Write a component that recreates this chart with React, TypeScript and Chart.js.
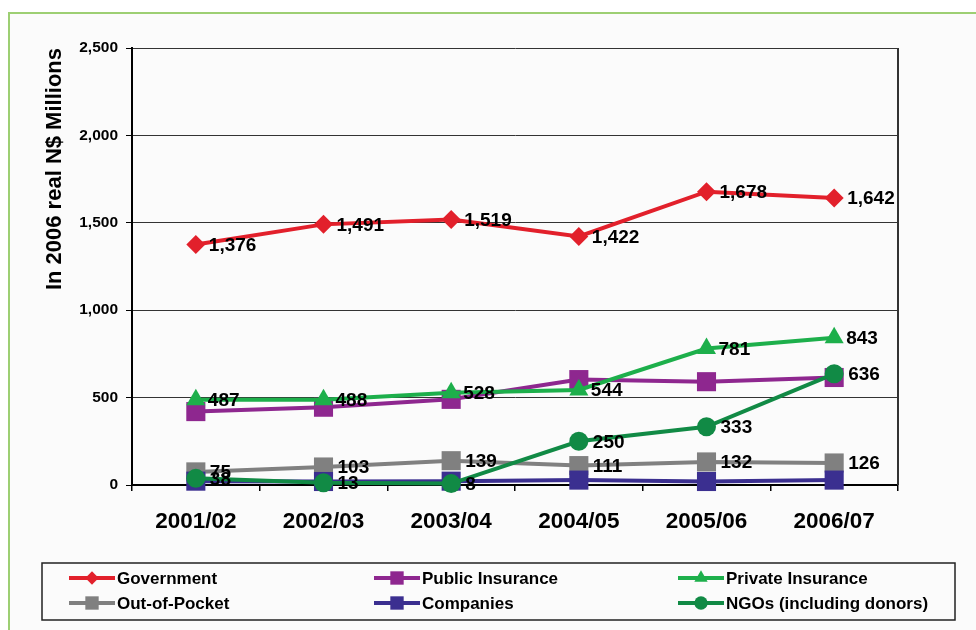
import React, { useEffect, useRef } from 'react';
import { Chart, registerables } from 'chart.js';

Chart.register(...registerables);

const categories = ['2001/02', '2002/03', '2003/04', '2004/05', '2005/06', '2006/07'];
const government = [1376, 1491, 1519, 1422, 1678, 1642];
const publicInsurance = [420, 445, 490, 603, 591, 615];
const privateInsurance = [487, 488, 528, 544, 781, 843];
const outOfPocket = [75, 103, 139, 111, 132, 126];
const companies = [22, 20, 22, 28, 20, 28];
const ngos = [38, 13, 8, 250, 333, 636];
const yTicks = [0, 500, 1000, 1500, 2000, 2500];
const seriesNames = [
  'Government',
  'Public Insurance',
  'Private Insurance',
  'Out-of-Pocket',
  'Companies',
  'NGOs (including donors)',
];
const yTitle = 'In 2006 real N$ Millions';

const FONT = '"Liberation Sans", Arial, Helvetica, sans-serif';

const seriesData = [government, publicInsurance, privateInsurance, outOfPocket, companies, ngos];
const seriesColors = ['#E2202B', '#8E278F', '#1DAF4B', '#808080', '#3B2F90', '#118A45'];
const seriesStyles = ['rectRot', 'rect', 'triangle', 'rect', 'rect', 'circle'];
const seriesRadius = [9.5, 13.5, 11, 13.5, 13.5, 9.5];
const labelOffsets = [13, 0, 12, 14, 0, 14];

function drawMarker(ctx: CanvasRenderingContext2D, style: string, x: number, y: number, r: number, color: string) {
  ctx.save();
  ctx.fillStyle = color;
  ctx.beginPath();
  if (style === 'rectRot') {
    ctx.moveTo(x - r, y);
    ctx.lineTo(x, y - r);
    ctx.lineTo(x + r, y);
    ctx.lineTo(x, y + r);
    ctx.closePath();
  } else if (style === 'rect') {
    const s = r * Math.SQRT1_2;
    ctx.rect(x - s, y - s, 2 * s, 2 * s);
  } else if (style === 'triangle') {
    let rad = 0;
    ctx.moveTo(x + Math.sin(rad) * r, y - Math.cos(rad) * r);
    rad += (2 * Math.PI) / 3;
    ctx.lineTo(x + Math.sin(rad) * r, y - Math.cos(rad) * r);
    rad += (2 * Math.PI) / 3;
    ctx.lineTo(x + Math.sin(rad) * r, y - Math.cos(rad) * r);
    ctx.closePath();
  } else {
    ctx.arc(x, y, r, 0, Math.PI * 2);
  }
  ctx.fill();
  ctx.restore();
}

const valueLabels = {
  id: 'valueLabels',
  afterDatasetsDraw(chart: any) {
    const ctx = chart.ctx;
    ctx.save();
    ctx.font = `bold 19px ${FONT}`;
    ctx.fillStyle = '#000';
    ctx.textBaseline = 'middle';
    ctx.textAlign = 'left';
    chart.data.datasets.forEach((ds: any, i: number) => {
      const off = labelOffsets[i];
      if (!off) return;
      const meta = chart.getDatasetMeta(i);
      meta.data.forEach((pt: any, j: number) => {
        ctx.fillText(Number(ds.data[j]).toLocaleString('en-US'), pt.x + off, pt.y + 1);
      });
    });
    ctx.restore();
  },
};

const frameAndLegend = {
  id: 'frameAndLegend',
  beforeDatasetsDraw(chart: any) {
    const { ctx, chartArea } = chart;
    ctx.save();
    ctx.strokeStyle = '#333';
    ctx.lineWidth = 2;
    ctx.beginPath();
    ctx.moveTo(chartArea.right, chartArea.top);
    ctx.lineTo(chartArea.right, chartArea.bottom);
    ctx.stroke();
    ctx.restore();
  },
  afterDraw(chart: any) {
    const { ctx } = chart;
    ctx.save();
    ctx.strokeStyle = '#222';
    ctx.lineWidth = 1.5;
    ctx.strokeRect(32, 549, 913, 57);
    const colX = [59, 364, 668];
    const rowY = [564, 589];
    ctx.font = `bold 17px ${FONT}`;
    ctx.textBaseline = 'middle';
    ctx.textAlign = 'left';
    chart.data.datasets.forEach((ds: any, i: number) => {
      const x = colX[i % 3];
      const y = rowY[Math.floor(i / 3)];
      ctx.strokeStyle = ds.borderColor;
      ctx.lineWidth = 4;
      ctx.beginPath();
      ctx.moveTo(x, y);
      ctx.lineTo(x + 46, y);
      ctx.stroke();
      drawMarker(ctx, seriesStyles[i], x + 23, y, seriesRadius[i] * 0.7, ds.borderColor);
      ctx.fillStyle = '#000';
      ctx.fillText(ds.label, x + 48, y + 1);
    });
    ctx.restore();
  },
};

export default function App() {
  const canvasRef = useRef<HTMLCanvasElement | null>(null);

  useEffect(() => {
    if (!canvasRef.current) return;
    const datasets = seriesNames.map((name, i) => ({
      label: name,
      data: seriesData[i],
      borderColor: seriesColors[i],
      backgroundColor: seriesColors[i],
      pointBackgroundColor: seriesColors[i],
      pointBorderColor: seriesColors[i],
      pointBorderWidth: 0,
      pointStyle: seriesStyles[i],
      pointRadius: seriesRadius[i],
      pointHoverRadius: seriesRadius[i],
      borderWidth: 4,
      tension: 0,
      clip: false as any,
      order: 5 - i,
    }));

    const chart = new Chart(canvasRef.current, {
      type: 'line',
      data: { labels: categories, datasets },
      options: {
        animation: false,
        responsive: false,
        maintainAspectRatio: false,
        layout: { padding: { top: 34, right: 78, bottom: 95, left: 0 } },
        plugins: {
          legend: { display: false },
          tooltip: { enabled: false },
        },
        scales: {
          x: {
            offset: true,
            grid: {
              offset: true,
              drawOnChartArea: false,
              drawTicks: true,
              tickLength: 6,
              color: '#000',
              lineWidth: 1.5,
            },
            border: { color: '#000', width: 2 },
            ticks: {
              color: '#000',
              font: { family: FONT, size: 22.5, weight: 'bold' },
              padding: 17,
              maxRotation: 0,
              autoSkip: false,
            },
            afterFit: (s: any) => {
              s.height = 50;
            },
          },
          y: {
            min: 0,
            max: 2500,
            afterBuildTicks: (s: any) => {
              s.ticks = yTicks.map((v) => ({ value: v }));
            },
            ticks: {
              color: '#000',
              font: { family: FONT, size: 15.5, weight: 'bold' },
              padding: 8,
              callback: (v: any) => Number(v).toLocaleString('en-US'),
            },
            grid: {
              color: '#333',
              lineWidth: 1,
              drawTicks: true,
              tickLength: 6,
              tickColor: '#000',
            },
            border: { color: '#000', width: 2 },
            title: {
              display: true,
              text: yTitle,
              align: 'end',
              color: '#000',
              font: { family: FONT, size: 22, weight: 'bold' },
              padding: { top: 32, bottom: 0 },
            },
            afterFit: (s: any) => {
              s.width = 122;
            },
          },
        },
      } as any,
      plugins: [valueLabels, frameAndLegend],
    });
    return () => chart.destroy();
  }, []);

  return (
    <div
      style={{
        position: 'absolute',
        left: 8,
        top: 12,
        width: 968,
        height: 618,
        boxSizing: 'border-box',
        borderLeft: '2px solid #9DCF73',
        borderTop: '2px solid #9DCF73',
        background: '#FBFBFB',
        overflow: 'hidden',
      }}
    >
      <canvas ref={canvasRef} width={966} height={616} style={{ display: 'block', width: 966, height: 616 }} />
    </div>
  );
}
